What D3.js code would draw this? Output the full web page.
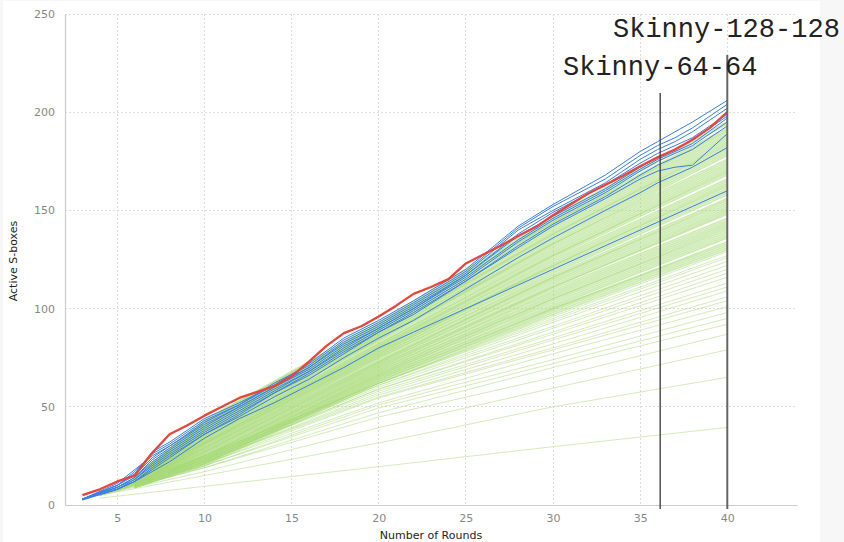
<!DOCTYPE html>
<html>
<head>
<meta charset="utf-8">
<script src="https://cdn.jsdelivr.net/npm/d3@7"></script>
<style>
  html, body { margin: 0; padding: 0; background: #f7f7f7; }
  svg { display: block; }
</style>
</head>
<body>
<svg id="chart" width="844" height="542"></svg>
<script>
// ---------------- DATA ----------------
const xTicks = [5, 10, 15, 20, 25, 30, 35, 40];
const yTicks = [0, 50, 100, 150, 200, 250];

// Red line (one value per round)
const redRounds = [3,4,5,6,7,8,9,10,11,12,13,14,15,16,17,18,19,20,21,22,23,24,25,26,27,28,29,30,31,32,33,34,35,36,37,38,39,40];
const redValues = [5,8,12,15,26.5,36,40.5,45.5,50,54.5,57.5,60.5,65.5,73,81,87.5,91,96,101.5,107.5,111,115,123,127.5,132,137,141.5,147.5,153,158.5,163,167.5,172.5,177,181,186,192,200];

// Blue lines
const blueRounds = [3,5,6,7,8,10,12,14,16,18,20,22,25,28,30,33,35,36,37,38,40];
const blue1  = [3,10,16,27,32,44,52,61,72,85,94,104,120,142,153,168,180,185,190,195,206];
const blue2  = [3,10,17,26,31,43,51,62,71,84,93,103,119,141,152,166,178,183,187,192,204];
const blue3  = [3,11,18,25,30,42,51,61,70,83,92,102,118,140,150,164,176,181,185,190,202];
const blue4  = [3,10,15,24,30,41,50,60,70,82,91,101,117,138,149,163,174,179,183,187,199];
const blue5  = [3,9,14,23,29,40,50,60,69,81,90,100,117,137,147,161,172,177,181,186,198];
const blue6  = [3,9,14,22,28,39,49,59,68,80,90,100,116,135,146,160,171,176,180,184,197];
const blue7  = [3,9,13,21,27,38,48,58,68,79,89,99,115,134,145,159,170,175,179,183,195];
const blue8  = [3,8,13,20,26,37,47,57,67,78,88,98,114,132,143,157,168,173,177,181,193];
const blue9  = [3,8,12,19,25,36,46,57,66,77,88,97,114,131,142,156,166,170,172,173,189];
const blue10 = [3,8,12,18,24,36,45,55,64,75,85,94,110,126,136,150,159,164,168,172,182];
const blue11 = [2.5,8,12,17,22,34,44,52,61,70,80,88,100,112,120,132,140,144,148,152,160];
const blueSeries = [blue1, blue2, blue3, blue4, blue5, blue6, blue7, blue8, blue9, blue10, blue11];

// Green lines, dense band (values at greenDenseRounds)
const greenDenseRounds = [6, 10, 20, 30, 40];
const greenDense = [
  [9,20,62,97,130],[9,21,63,98,131],[9,21,63,99,132],[9,21,64,100,133],[9,22,64,100,134],
  [9,22,65,101,136],[10,22,65,102,137],[10,23,66,103,138],[10,23,66,104,139],[10,23,67,105,140],
  [10,24,67,105,141],[10,24,68,106,142],[10,25,68,107,143],[10,25,69,108,144],[10,25,69,109,145],
  [10,26,70,110,146],[10,26,70,111,148],[10,27,71,111,149],[11,27,71,112,150],[11,27,72,113,151],
  [11,28,72,114,152],[11,28,73,115,153],[11,29,73,116,154],[11,29,74,116,155],[11,29,75,117,156],
  [11,30,75,118,158],[11,30,76,119,159],[11,31,76,120,160],[11,31,77,121,161],[11,31,77,122,162],
  [12,32,78,122,163],[12,32,78,123,164],[12,32,79,124,165],[12,33,79,125,166],[12,33,80,126,168],
  [12,34,80,127,169],[12,34,81,127,170],[12,34,81,128,171],[12,35,82,129,172],[12,35,82,130,173],
  [12,36,83,131,174],[13,36,84,132,175],[13,36,84,133,176],[13,37,85,133,178],[13,37,85,134,179],
  [13,38,86,135,180],[13,38,86,136,181],[13,38,87,137,182],[13,39,87,138,183],[13,39,88,138,184],
  [13,40,88,139,185],[13,40,89,140,186],[14,40,89,141,187],[14,41,90,142,188],[14,41,90,143,189],
  [14,42,91,144,190],[14,42,91,144,191],[14,42,92,145,192],[14,43,92,146,194],[14,43,93,147,195]
];

// Green lines, sparse lower ones (values at greenSparseRounds)
const greenSparseRounds = [4, 10, 20, 30, 40];
const greenSparse = [
  [3.5,9.5,19.5,29.7,39.5],[5,15,31.6,50,65],[5,17,39.4,59.5,79],[5,19,44.8,65,87],
  [5,19,47,70,92],[5,20,49.4,72,95],[5,20,51,74,98],[5,21,52,77,101],[5,21,54.5,79,104],
  [5,22,55,80,106],[5,22,56,82,109],[5,22,57,84,111],[5,23,58,85,113],[5,23,59,87,116],
  [5,23,59,88,118],[5,24,60,90,120],[5,24,61,91,122],[5,24,61,93,124],[5,25,62,94,126],
  [5,25,62,95,127],[5,25,62,96,129]
];

// Vertical markers
const markerRounds = [36.15, 40];
const markerTops = [93, 55];
const labels = ["Skinny-64-64", "Skinny-128-128"];

// ---------------- DRAW ----------------
const svg = d3.select("#chart");
svg.append("rect").attr("x", 3).attr("y", 1).attr("width", 817).attr("height", 541).attr("fill", "#ffffff");

const x = d3.scaleLinear().domain([2, 44]).range([65, 797]);
const y = d3.scaleLinear().domain([0, 250]).range([505, 14]);

// grid
const grid = svg.append("g");
grid.selectAll("line.vg").data(xTicks).join("line")
  .attr("x1", d => x(d)).attr("x2", d => x(d)).attr("y1", y(250)).attr("y2", y(0))
  .attr("stroke", "#dddddd").attr("stroke-dasharray", "2,2").attr("stroke-width", 1)
  .attr("shape-rendering", "crispEdges");
grid.selectAll("line.hg").data(yTicks.filter(d => d > 0)).join("line")
  .attr("x1", x(2)).attr("x2", x(44)).attr("y1", d => y(d)).attr("y2", d => y(d))
  .attr("stroke", "#dddddd").attr("stroke-dasharray", "2,2").attr("stroke-width", 1)
  .attr("shape-rendering", "crispEdges");

const line = d3.line().x(d => x(d[0])).y(d => y(d[1]));

const gGreen = svg.append("g").attr("fill", "none");
gGreen.selectAll("path.gs").data(greenSparse).join("path")
  .attr("d", vals => line(vals.map((v, i) => [greenSparseRounds[i], v])))
  .attr("stroke", "#a8da78").attr("stroke-opacity", 0.5).attr("stroke-width", 1);
gGreen.selectAll("path.gd").data(greenDense).join("path")
  .attr("d", vals => line(vals.map((v, i) => [greenDenseRounds[i], v])))
  .attr("stroke", "#a8da78").attr("stroke-opacity", 0.55).attr("stroke-width", 1.7);

const gBlue = svg.append("g").attr("fill", "none");
gBlue.selectAll("path").data(blueSeries).join("path")
  .attr("d", vals => line(vals.map((v, i) => [blueRounds[i], v])))
  .attr("stroke", "#3b7fe3").attr("stroke-width", 1);

svg.append("path")
  .attr("d", line(redValues.map((v, i) => [redRounds[i], v])))
  .attr("fill", "none").attr("stroke", "#e8453c").attr("stroke-width", 2.3)
  .attr("stroke-linejoin", "round");

// axes
const xAxis = svg.append("g").attr("transform", `translate(0,${y(0)})`)
  .call(d3.axisBottom(x).tickValues(xTicks).tickSize(0).tickPadding(9));
const yAxis = svg.append("g").attr("transform", `translate(${x(2)},0)`)
  .call(d3.axisLeft(y).tickValues(yTicks).tickSize(0).tickPadding(10));
[xAxis, yAxis].forEach(a => {
  a.select(".domain").attr("stroke", "#cccccc").attr("stroke-width", 1.2);
  a.selectAll("text").attr("fill", "#888").attr("font-family", "DejaVu Sans").attr("font-size", 11);
});

svg.append("text").attr("x", 431).attr("y", 539).attr("text-anchor", "middle")
  .attr("font-family", "DejaVu Sans").attr("font-size", 11).attr("fill", "#222")
  .text("Number of Rounds");
svg.append("text").attr("transform", "translate(17,261) rotate(-90)").attr("text-anchor", "middle")
  .attr("font-family", "DejaVu Sans").attr("font-size", 11).attr("fill", "#222")
  .text("Active S-boxes");

// markers
svg.selectAll("line.marker").data(markerRounds).join("line")
  .attr("x1", d => x(d)).attr("x2", d => x(d))
  .attr("y1", (d, i) => markerTops[i]).attr("y2", 509)
  .attr("stroke", (d, i) => i === 0 ? "#444" : "#666")
  .attr("stroke-width", (d, i) => i === 0 ? 1.4 : 2);

svg.append("text").attr("x", 563).attr("y", 75)
  .attr("font-family", "Liberation Mono, Courier New, monospace").attr("font-size", 27).attr("fill", "#222")
  .text(labels[0]);
svg.append("text").attr("x", 613).attr("y", 37)
  .attr("font-family", "Liberation Mono, Courier New, monospace").attr("font-size", 27).attr("fill", "#222")
  .text(labels[1]);
</script>
</body>
</html>
